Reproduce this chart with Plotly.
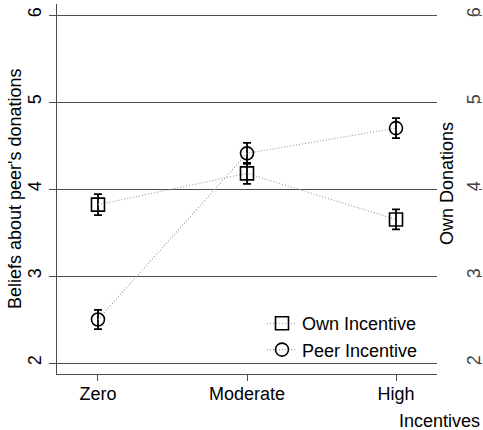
import plotly.graph_objects as go

categories = ["Zero", "Moderate", "High"]
x_pos = [1, 2, 3]
own_vals = [3.82, 4.18, 3.65]
own_err = [0.12, 0.12, 0.115]
peer_vals = [2.50, 4.41, 4.70]
peer_err = [0.11, 0.12, 0.115]
y_ticks = [2, 3, 4, 5, 6]

FONT = "Liberation Sans, Arial, sans-serif"
FS = 18
GRID = "#4d4d4d"

W, H = 483, 430
L, R_edge, T, B = 57, 437, 4, 374
paper_w = W - L - 1
dom_right = (R_edge - L) / paper_w

fig = go.Figure()

def add_series(name, vals, errs, symbol):
    fig.add_trace(go.Scatter(
        x=x_pos, y=vals, name=name, mode="lines+markers",
        line=dict(color="#9a9a9a", width=1.1, dash="1px,2px"),
        marker=dict(symbol=symbol, size=13, color="black",
                    line=dict(color="black", width=1.6)),
        error_y=dict(type="data", array=errs, visible=True,
                     color="black", thickness=1.8, width=4),
    ))

add_series("Own Incentive", own_vals, own_err, "square-open")
add_series("Peer Incentive", peer_vals, peer_err, "circle-open")

# invisible trace for right axis
fig.add_trace(go.Scatter(x=[1], y=[4], yaxis="y2", mode="markers",
                         marker=dict(opacity=0), showlegend=False,
                         hoverinfo="skip"))

yr = [2 - 11 / 87, 6 + 11 / 87]

fig.update_layout(
    width=W, height=H,
    margin=dict(l=L, r=W - L - paper_w, t=T, b=H - B, autoexpand=False),
    paper_bgcolor="white", plot_bgcolor="white",
    font=dict(family=FONT, size=FS, color="black"),
    xaxis=dict(
        domain=[0, dom_right], range=[0.725, 3.275],
        tickvals=x_pos, ticktext=categories,
        ticks="outside", ticklen=6, tickcolor=GRID, tickwidth=1,
        ticklabelstandoff=-3,
        showline=True, linecolor=GRID, linewidth=1,
        showgrid=False, zeroline=False, automargin=False,
        tickfont=dict(size=FS),
    ),
    yaxis=dict(
        range=yr, tickvals=y_ticks,
        ticks="outside", ticklen=7, tickcolor=GRID, tickwidth=1,
        tickangle=-90, automargin=False, ticklabelstandoff=1,
        showline=True, linecolor=GRID, linewidth=1,
        showgrid=True, gridcolor=GRID, gridwidth=1,
        zeroline=False, tickfont=dict(size=FS),
    ),
    yaxis2=dict(
        range=yr, tickvals=y_ticks, overlaying="y", side="right",
        anchor="free", position=1, automargin=False,
        ticks="inside", ticklen=3, tickcolor=GRID, tickwidth=1,
        ticklabelposition="inside", tickangle=-90, ticklabelstandoff=-4,
        showline=False, showgrid=False, zeroline=False,
        tickfont=dict(size=FS),
    ),
    legend=dict(
        x=(262 - L) / paper_w, y=(B - 305) / (B - T),
        xanchor="left", yanchor="top",
        bgcolor="rgba(0,0,0,0)", font=dict(size=FS),
        tracegroupgap=0,
    ),
    annotations=[
        dict(text="Beliefs about peer's donations", xref="paper", yref="paper",
             x=(15 - L) / paper_w, y=0.5, xanchor="center", yanchor="middle",
             textangle=-90, showarrow=False, font=dict(size=FS)),
        dict(text="Own Donations", xref="paper", yref="paper",
             x=(447 - L) / paper_w, y=(B - 184) / (B - T),
             xanchor="center", yanchor="middle",
             textangle=-90, showarrow=False, font=dict(size=FS)),
        dict(text="Incentives", xref="paper", yref="paper",
             x=1, y=-(421 - B) / (B - T), xanchor="right", yanchor="middle",
             showarrow=False, font=dict(size=FS)),
    ],
    showlegend=True,
)

fig.write_html("out.html",
               config={"displayModeBar": False},
               post_script="document.body.style.margin='0px';")
